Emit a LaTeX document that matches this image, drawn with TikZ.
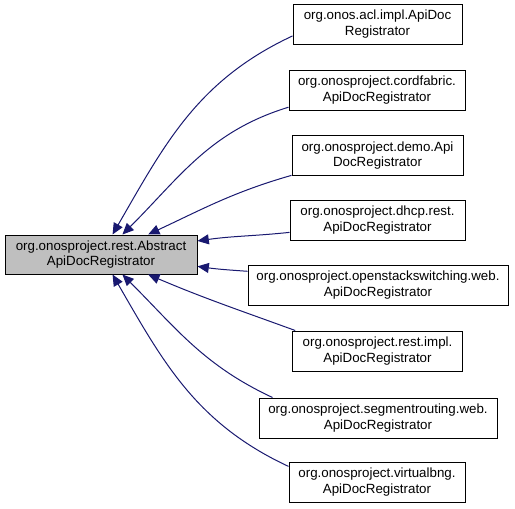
\documentclass[tikz,border=0pt]{standalone}
\usepackage{fontspec}
\setmainfont{Liberation Sans}
\usetikzlibrary{arrows.meta}
\definecolor{navy}{HTML}{191970}
\definecolor{basegray}{HTML}{BFBFBF}

\begin{document}
\begin{tikzpicture}[x=.75pt,y=-.75pt,
      klass/.style={draw=black,fill=white,line width=.75pt,minimum height=30pt,
                    align=center,inner sep=0pt,font=\fontsize{10}{11.5}\selectfont},
      inherit/.style={-{Triangle[length=8.5pt,width=7.5pt]},line width=.75pt,draw=navy}]
    \useasboundingbox (0,0) rectangle (515,508);
    \node[klass,fill=basegray,minimum width=144pt,minimum height=29.25pt] (abstract) at (101,254.5) {org.onosproject.rest.Abstract\\ApiDocRegistrator};
    \node[klass,minimum width=126.75pt] (acl) at (377.5,24) {org.onos.acl.impl.ApiDoc\\Registrator};
    \node[klass,minimum width=132pt] (cordfabric) at (377,90) {org.onosproject.cordfabric.\\ApiDocRegistrator};
    \node[klass,minimum width=128.25pt] (demo) at (377.5,155.5) {org.onosproject.demo.Api\\DocRegistrator};
    \node[klass,minimum width=131.25pt] (dhcp) at (377.5,220) {org.onosproject.dhcp.rest.\\ApiDocRegistrator};
    \node[klass,minimum width=195pt] (openstack) at (378,285) {org.onosproject.openstackswitching.web.\\ApiDocRegistrator};
    \node[klass,minimum width=127.5pt] (restimpl) at (377.5,351) {org.onosproject.rest.impl.\\ApiDocRegistrator};
    \node[klass,minimum width=178.5pt] (segment) at (378,418) {org.onosproject.segmentrouting.web.\\ApiDocRegistrator};
    \node[klass,minimum width=132pt] (vbng) at (377,482) {org.onosproject.virtualbng.\\ApiDocRegistrator};
    % inheritance edges
    \draw[inherit] (acl.188) to[out=205,in=60] (abstract.60);
    \draw[inherit] (cordfabric.191) to[out=197,in=45] (abstract.43);
    \draw[inherit] (demo.193) to[out=196,in=25] (abstract.23);
    \draw[inherit] (dhcp.188) to[out=186,in=8] (abstract.8.6);
    \draw[inherit] (openstack.174) to[out=176,in=-8] (abstract.-7.7);
    \draw[inherit] (restimpl.166.7) to[out=160,in=-23] (abstract.-23);
    \draw[inherit] (segment.169) to[out=155,in=-45] (abstract.-43);
    \draw[inherit] (vbng.170) to[out=155,in=-60] (abstract.-60);
\end{tikzpicture}
\end{document}
